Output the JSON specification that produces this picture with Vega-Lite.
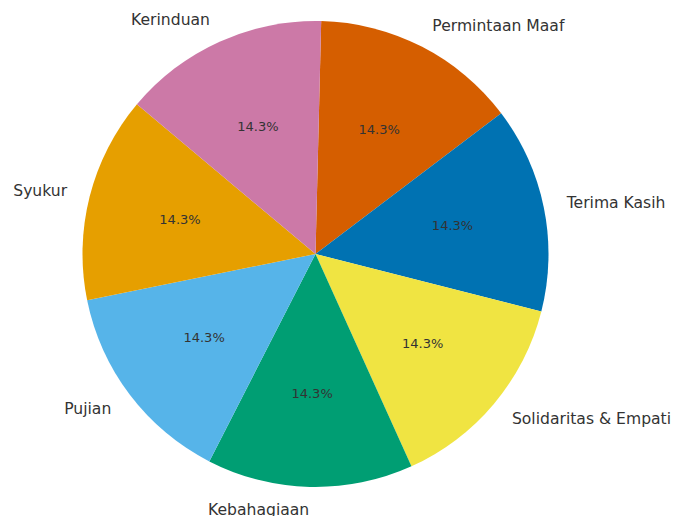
{
  "$schema": "https://vega.github.io/schema/vega-lite/v6.json",
  "width": 631,
  "height": 508,
  "autosize": {"type": "none"},
  "padding": {"left": 0, "top": 0, "right": 44, "bottom": 8},
  "background": "white",
  "view": {"stroke": null},
  "data": {
    "values": [
      {"label": "Permintaan Maaf", "value": 1, "pct": "14.3%", "order": 1},
      {"label": "Terima Kasih", "value": 1, "pct": "14.3%", "order": 2},
      {"label": "Solidaritas & Empati", "value": 1, "pct": "14.3%", "order": 3},
      {"label": "Kebahagiaan", "value": 1, "pct": "14.3%", "order": 4},
      {"label": "Pujian", "value": 1, "pct": "14.3%", "order": 5},
      {"label": "Syukur", "value": 1, "pct": "14.3%", "order": 6},
      {"label": "Kerinduan", "value": 1, "pct": "14.3%", "order": 7}
    ]
  },
  "encoding": {
    "theta": {"field": "value", "type": "quantitative", "stack": true, "scale": {"range": [0.0244, 6.3076]}},
    "order": {"field": "order", "type": "quantitative"},
    "color": {
      "field": "label",
      "type": "nominal",
      "scale": {
        "domain": ["Permintaan Maaf", "Terima Kasih", "Solidaritas & Empati", "Kebahagiaan", "Pujian", "Syukur", "Kerinduan"],
        "range": ["#d55e00", "#0072b2", "#f0e442", "#009e73", "#56b4e9", "#e69f00", "#cc79a7"]
      },
      "legend": null
    }
  },
  "layer": [
    {"mark": {"type": "arc", "radius": 233, "strokeWidth": 0}},
    {
      "mark": {"type": "text", "radius": 139.8, "fontSize": 13, "font": "DejaVu Sans", "align": "center", "baseline": "middle"},
      "encoding": {"text": {"field": "pct"}, "color": {"value": "#333333"}}
    },
    {
      "mark": {
        "type": "text",
        "radius": 256.3,
        "fontSize": 15.6,
        "font": "DejaVu Sans",
        "baseline": "middle",
        "align": {"expr": "indexof(['Kebahagiaan','Pujian','Syukur','Kerinduan'], datum.label) >= 0 ? 'right' : 'left'"}
      },
      "encoding": {"text": {"field": "label"}, "color": {"value": "#333333"}}
    }
  ]
}
